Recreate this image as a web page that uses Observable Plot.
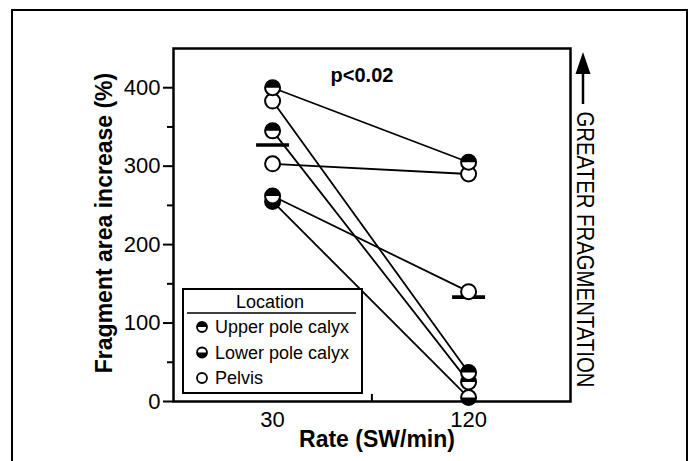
<!DOCTYPE html>
<html><head><meta charset="utf-8">
<script src="https://cdn.jsdelivr.net/npm/d3@7"></script>
<script src="https://cdn.jsdelivr.net/npm/@observablehq/plot@0.6"></script>
<style>
body{margin:0;background:#fff;}
#wrap{position:relative;width:691px;height:461px;overflow:hidden;background:#fff;}
#outer{position:absolute;left:11px;top:9px;width:673px;height:480px;border:2.5px solid #000;}
#chart{position:absolute;left:0;top:0;}
</style></head><body>
<div id="wrap"><div id="outer"></div><div id="chart"></div></div>
<script>
// ---- data ----
const rates = [30, 120];
const subjects = ["A", "B", "C", "D", "E", "F"];
const rate30 = [400, 383, 345, 303, 262, 255];
const rate120 = [305, 37, 25, 290, 140, 5];
const sites30 = ["Upper pole calyx", "Pelvis", "Upper pole calyx", "Pelvis", "Upper pole calyx", "Lower pole calyx"];
const sites120 = ["Upper pole calyx", "Upper pole calyx", "Upper pole calyx", "Pelvis", "Pelvis", "Lower pole calyx"];
const meanValues = [327, 133];
const yTicks = [0, 100, 200, 300, 400];
const yMinor = [50, 150, 250, 350];
const xMinor = [75.6];
const legendTitle = "Location";
const legendItems = ["Upper pole calyx", "Lower pole calyx", "Pelvis"];
const pText = "p<0.02";
const yLabel = "Fragment area increase (%)";
const xLabel = "Rate (SW/min)";
const sideLabel = "GREATER FRAGMENTATION";

// ---- tables ----
const points = subjects.flatMap((s, i) => [
  {subject: s, rate: rates[0], value: rate30[i], site: sites30[i]},
  {subject: s, rate: rates[1], value: rate120[i], site: sites120[i]}
]);
const means = rates.map((r, i) => ({rate: r, value: meanValues[i]}));

// ---- custom symbols ----
const topHalf = {draw(ctx, size) { const r = Math.sqrt(size / Math.PI); ctx.moveTo(-r, 0); ctx.arc(0, 0, r, Math.PI, 2 * Math.PI); ctx.closePath(); }};
const bottomHalf = {draw(ctx, size) { const r = Math.sqrt(size / Math.PI); ctx.moveTo(r, 0); ctx.arc(0, 0, r, 0, Math.PI); ctx.closePath(); }};
const dash = {draw(ctx, size) { ctx.rect(-16.5, -1.8, 33, 3.6); }};

const R = 7.5;
const ordered = d3.sort(points, d => d.value);
const pointMarks = ordered.flatMap(p => {
  const m = [Plot.dot([p], {x: "rate", y: "value", r: R, fill: "white", stroke: "black", strokeWidth: 2})];
  if (p.site === "Upper pole calyx") m.push(Plot.dot([p], {x: "rate", y: "value", r: R, symbol: topHalf, fill: "black"}));
  if (p.site === "Lower pole calyx") m.push(Plot.dot([p], {x: "rate", y: "value", r: R, symbol: bottomHalf, fill: "black"}));
  return m;
});

const font = "'Liberation Sans', Arial, Helvetica, sans-serif";
const chart = Plot.plot({
  width: 691, height: 461,
  marginLeft: 173, marginRight: 121, marginTop: 48, marginBottom: 60,
  style: {fontFamily: font, fontSize: "20px", color: "#000", background: "transparent", overflow: "visible"},
  x: {type: "linear", domain: [-15.5, 166.8]},
  y: {domain: [0, 450]},
  marks: [
    Plot.axisY(yTicks, {tickSize: 10, strokeWidth: 2, tickPadding: 3, label: null, fontSize: 22}),
    Plot.axisY(yMinor, {tickSize: 6, strokeWidth: 2, tickFormat: () => "", label: null}),
    Plot.axisX(rates, {tickSize: 0, tickPadding: 10, label: null, fontSize: 22}),
    Plot.ruleX(xMinor, {y1: 0, y2: 9, strokeWidth: 2}),
    Plot.frame({strokeWidth: 2.5}),
    Plot.line(points, {x: "rate", y: "value", z: "subject", stroke: "black", strokeWidth: 1.8}),
    Plot.dot(means, {x: "rate", y: "value", symbol: dash, fill: "black", r: 5}),
    ...pointMarks,
    Plot.text([pText], {text: d => d, frameAnchor: "top", textAnchor: "middle", lineAnchor: "middle", dx: -10, dy: 27.5, fontWeight: "bold", fontSize: 20}),
    Plot.text([yLabel], {text: d => d, frameAnchor: "left", textAnchor: "middle", lineAnchor: "middle", rotate: -90, dx: -69, dy: -2, fontWeight: "bold", fontSize: 23}),
    Plot.text([xLabel], {text: d => d, frameAnchor: "bottom", textAnchor: "middle", lineAnchor: "middle", dx: 5, dy: 38, fontWeight: "bold", fontSize: 23}),
    Plot.text([sideLabel], {text: d => d, frameAnchor: "top-right", dx: 14, dy: 63, rotate: 90, textAnchor: "start", lineAnchor: "middle", fontSize: 24})
  ]
});
document.getElementById("chart").appendChild(chart);

const svg = d3.select(chart);
// condense the side label to its measured length
svg.selectAll("text").filter(function() { return this.textContent === sideLabel; })
  .attr("textLength", 276).attr("lengthAdjust", "spacingAndGlyphs");

// ---- annotation overlay: legend box and arrow (pixel positions) ----
const g = svg.append("g").attr("font-family", font).attr("text-anchor", "start");
g.append("rect").attr("x", 183).attr("y", 289).attr("width", 179).attr("height", 104)
  .attr("fill", "white").attr("stroke", "black").attr("stroke-width", 2);
g.append("text").attr("x", 270).attr("y", 307.5).attr("text-anchor", "middle").attr("font-size", 18).text(legendTitle);
g.append("line").attr("x1", 187).attr("x2", 356).attr("y1", 313).attr("y2", 313).attr("stroke", "black").attr("stroke-width", 1.5);
const lr = 5;
legendItems.forEach((name, i) => {
  const cy = 327 + i * 25.5;
  g.append("circle").attr("cx", 202).attr("cy", cy).attr("r", lr).attr("fill", "white").attr("stroke", "black").attr("stroke-width", 1.8);
  if (i === 0) g.append("path").attr("d", `M${202 - lr},${cy} A${lr},${lr} 0 0 1 ${202 + lr},${cy} Z`).attr("fill", "black");
  if (i === 1) g.append("path").attr("d", `M${202 + lr},${cy} A${lr},${lr} 0 0 1 ${202 - lr},${cy} Z`).attr("fill", "black");
  g.append("text").attr("x", 215).attr("y", cy + 6.3).attr("text-anchor", "start").attr("font-size", 18).text(name);
});
// arrow
g.append("line").attr("x1", 583).attr("x2", 583).attr("y1", 104).attr("y2", 68).attr("stroke", "black").attr("stroke-width", 2.5);
g.append("path").attr("d", "M583,52 L590.5,74 L575.5,74 Z").attr("fill", "black");
</script>
</body></html>
